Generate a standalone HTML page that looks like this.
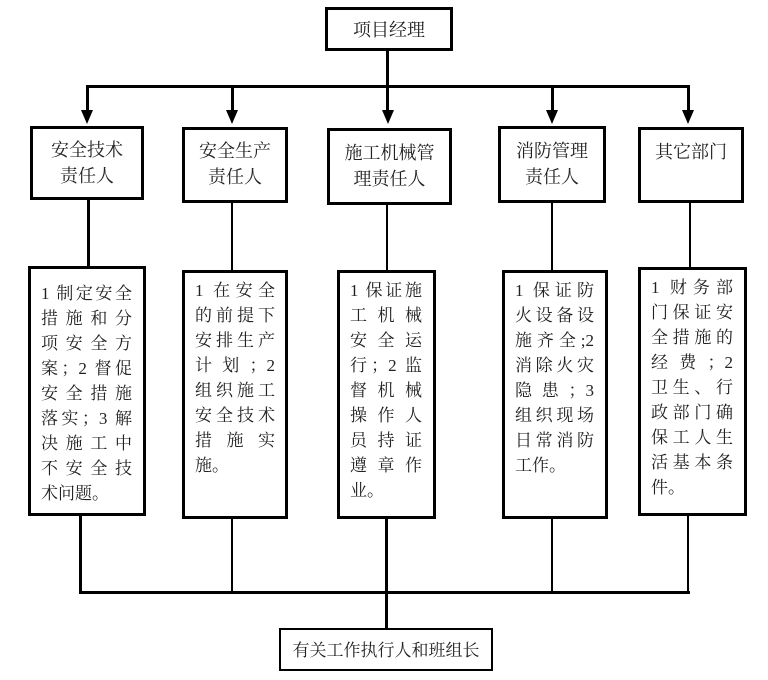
<!DOCTYPE html>
<html><head><meta charset="utf-8"><style>
body{margin:0;width:768px;height:680px;background:#fff;position:relative;overflow:hidden;font-family:"Liberation Serif","Noto Serif CJK SC","Noto Sans CJK SC",serif;color:#222}
.b{position:absolute;border:3px solid #000;box-sizing:border-box;background:#fff}
.t{position:absolute;left:0;right:0;text-align:center;font-size:18px;line-height:26px}
.l{position:absolute;background:#000}
.a{position:absolute;width:0;height:0;border-left:6px solid transparent;border-right:6px solid transparent;border-top:14px solid #000}
.p{position:absolute;font-size:17px;line-height:25px}
.p div{text-align:justify;text-align-last:justify;height:25px;white-space:nowrap}
.p div.n{text-align-last:left}
</style></head><body>
<!-- top -->
<div class="b" style="left:325px;top:7px;width:128px;height:44px"><div class="t" style="top:7px">项目经理</div></div>
<div class="l" style="left:386px;top:50px;width:3px;height:37px"></div>
<div class="l" style="left:86px;top:85px;width:604px;height:3px"></div>
<div class="l" style="left:86px;top:85px;width:3px;height:28px"></div>
<div class="l" style="left:231px;top:85px;width:3px;height:28px"></div>
<div class="l" style="left:386px;top:85px;width:3px;height:28px"></div>
<div class="l" style="left:551px;top:85px;width:3px;height:28px"></div>
<div class="l" style="left:687px;top:85px;width:3px;height:28px"></div>
<div class="a" style="left:81px;top:110px"></div>
<div class="a" style="left:226px;top:110px"></div>
<div class="a" style="left:382px;top:110px"></div>
<div class="a" style="left:546px;top:110px"></div>
<div class="a" style="left:682px;top:110px"></div>
<!-- row 1 -->
<div class="b" style="left:30px;top:126px;width:114px;height:74px"><div class="t" style="top:8px">安全技术<br>责任人</div></div>
<div class="b" style="left:182px;top:127px;width:106px;height:76px"><div class="t" style="top:8px">安全生产<br>责任人</div></div>
<div class="b" style="left:327px;top:128px;width:125px;height:77px"><div class="t" style="top:9px">施工机械管<br>理责任人</div></div>
<div class="b" style="left:498px;top:126px;width:108px;height:77px"><div class="t" style="top:9px">消防管理<br>责任人</div></div>
<div class="b" style="left:638px;top:127px;width:106px;height:76px"><div class="t" style="top:9px">其它部门</div></div>
<!-- connectors -->
<div class="l" style="left:87px;top:199px;width:3px;height:68px"></div>
<div class="l" style="left:231px;top:202px;width:2px;height:68px"></div>
<div class="l" style="left:386px;top:204px;width:2px;height:66px"></div>
<div class="l" style="left:551px;top:202px;width:2px;height:68px"></div>
<div class="l" style="left:689px;top:202px;width:2px;height:66px"></div>
<!-- row 2 -->
<div class="b" style="left:28px;top:266px;width:118px;height:250px"></div>
<div class="p" style="left:41px;top:281px;width:91px"><div>1 制定安全</div><div>措施和分</div><div>项安全方</div><div>案；2 督促</div><div>安全措施</div><div>落实；3 解</div><div>决施工中</div><div>不安全技</div><div class="n">术问题。</div></div>
<div class="b" style="left:182px;top:270px;width:106px;height:249px"></div>
<div class="p" style="left:195px;top:278px;width:80px"><div>1 在安全</div><div>的前提下</div><div>安排生产</div><div>计划；2</div><div>组织施工</div><div>安全技术</div><div>措施实</div><div class="n">施。</div></div>
<div class="b" style="left:337px;top:270px;width:99px;height:249px"></div>
<div class="p" style="left:350px;top:278px;width:72px"><div>1 保证施</div><div>工机械</div><div>安全运</div><div>行；2 监</div><div>督机械</div><div>操作人</div><div>员持证</div><div>遵章作</div><div class="n">业。</div></div>
<div class="b" style="left:502px;top:270px;width:106px;height:249px"></div>
<div class="p" style="left:515px;top:278px;width:79px"><div>1 保证防</div><div>火设备设</div><div>施齐全;2</div><div>消除火灾</div><div>隐患；3</div><div>组织现场</div><div>日常消防</div><div class="n">工作。</div></div>
<div class="b" style="left:638px;top:267px;width:109px;height:249px"></div>
<div class="p" style="left:651px;top:275px;width:82px"><div>1 财务部</div><div>门保证安</div><div>全措施的</div><div>经费；2</div><div>卫生、行</div><div>政部门确</div><div>保工人生</div><div>活基本条</div><div class="n">件。</div></div>
<!-- bottom connectors -->
<div class="l" style="left:79px;top:515px;width:3px;height:79px"></div>
<div class="l" style="left:231px;top:518px;width:2px;height:76px"></div>
<div class="l" style="left:385px;top:518px;width:3px;height:111px"></div>
<div class="l" style="left:551px;top:518px;width:2px;height:76px"></div>
<div class="l" style="left:687px;top:515px;width:2px;height:79px"></div>
<div class="l" style="left:79px;top:591px;width:611px;height:3px"></div>
<div class="b" style="left:279px;top:628px;width:214px;height:43px;border-width:2px"><div class="t" style="top:8px;font-size:17px">有关工作执行人和班组长</div></div>
</body></html>
